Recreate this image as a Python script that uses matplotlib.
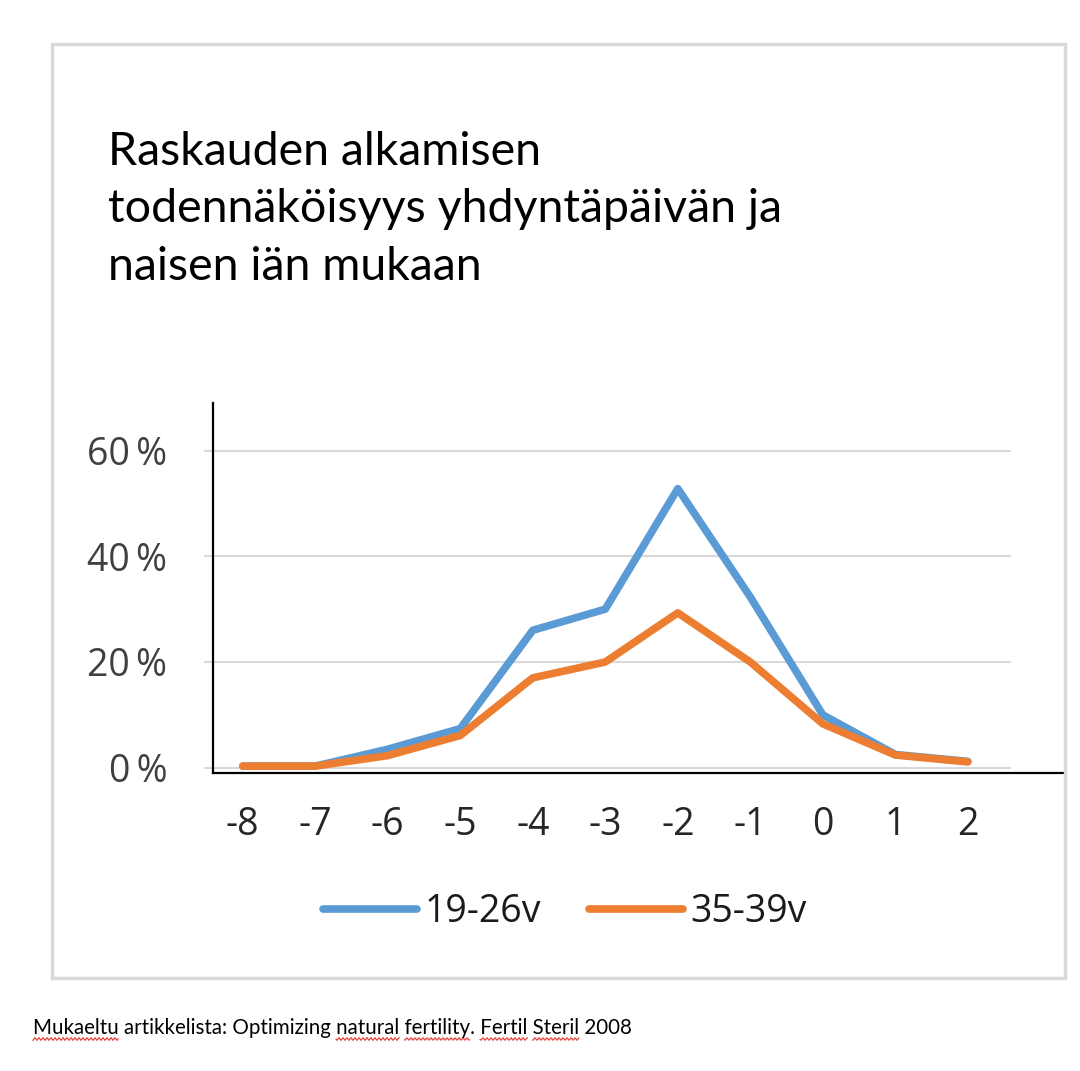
import numpy as np
import matplotlib.pyplot as plt
from matplotlib.patches import Rectangle
from matplotlib.lines import Line2D

# Days relative to ovulation and probability of pregnancy (%)
days = [-8, -7, -6, -5, -4, -3, -2, -1, 0, 1, 2]
young = [0.3, 0.3, 3.5, 7.4, 26.0, 30.0, 52.8, 32.3, 10.0, 2.5, 1.2]
older = [0.3, 0.3, 2.3, 6.1, 17.0, 20.0, 29.3, 20.0, 8.3, 2.4, 1.1]
yticks = [0, 20, 40, 60]
series_names = ['19-26v', '35-39v']

title = 'Raskauden alkamisen\ntodennäköisyys yhdyntäpäivän ja\nnaisen iän mukaan'
caption = 'Mukaeltu artikkelista: Optimizing natural fertility. Fertil Steril 2008'
# words flagged by the spell checker in the source document
flagged = ['Mukaeltu', 'natural', 'fertility', 'Fertil', 'Steril']

blue = '#5b9bd5'
orange = '#ed7d31'
W, H = 1080, 1071

fig = plt.figure(figsize=(W / 100, H / 100), dpi=100)
fig.patch.set_facecolor('white')

# outer chart frame
fig.patches.append(Rectangle((52 / W, 1 - 978 / H), (1065 - 52) / W, (978 - 44) / H,
                             transform=fig.transFigure, fill=False,
                             edgecolor='#d9d9d9', linewidth=2.5))

fig.text(108 / W, 1 - 131 / H, title, fontsize=33.5, family='Lato',
         va='top', ha='left', linespacing=1.45, color='black')

ax = fig.add_axes([213 / W, 1 - 773 / H, (1065 - 213) / W, (773 - 403) / H])
ax.set_xlim(-8.41, 3.34)
ax.set_ylim(-1.0, 69.0)

for t in yticks:
    ax.plot([-8.52, 2.58], [t, t], color='#d9d9d9', lw=1.5, zorder=1, clip_on=False)

l1, = ax.plot(days, young, color=blue, lw=5.5, solid_joinstyle='round',
              solid_capstyle='round', zorder=3)
l2, = ax.plot(days, older, color=orange, lw=5.5, solid_joinstyle='round',
              solid_capstyle='round', zorder=4)

for s in ['top', 'right']:
    ax.spines[s].set_visible(False)
for s in ['left', 'bottom']:
    ax.spines[s].set_color('black')
    ax.spines[s].set_linewidth(1.6)

ax.set_xticks(days)
ax.set_xticklabels([str(d) for d in days])
ax.set_yticks(yticks)
ax.set_yticklabels(['%d\u2009%%' % t for t in yticks])
ax.tick_params(length=0, labelsize=27, colors='#404040')
ax.tick_params(axis='x', pad=24, labelcolor='#262626')
ax.tick_params(axis='y', pad=33)
for lab in ax.get_xticklabels() + ax.get_yticklabels():
    lab.set_family('Open Sans')

leg = fig.legend([l1, l2], series_names, loc='center', bbox_to_anchor=(565 / W, 1 - 912 / H),
                 ncol=2, frameon=False, handlelength=2.5, columnspacing=1.3,
                 handletextpad=0.2, prop={'family': 'Open Sans', 'size': 27})
for t in leg.get_texts():
    t.set_color('#1a1a1a')

cap_x, cap_y = 33, 1028
cap = fig.text(cap_x / W, 1 - cap_y / H, caption, fontsize=14.8, family='Lato',
               va='center', ha='left', color='black')

# red wavy spell-check underlines below the flagged words
renderer = fig.canvas.get_renderer()


def text_width(s):
    tmp = fig.text(0, 0, s, fontsize=14.8, family='Lato')
    w = tmp.get_window_extent(renderer).width
    tmp.remove()
    return w


for word in flagged:
    i = caption.index(word)
    x0 = cap_x + (text_width(caption[:i]) if i > 0 else 0)
    x1 = cap_x + text_width(caption[:i + len(word)])
    xs = np.arange(x0, x1, 1.0)
    ys = cap_y + 11 + 1.3 * np.sin(xs * np.pi / 2.0)
    fig.lines.append(Line2D(xs / W, 1 - ys / H, transform=fig.transFigure,
                            color='#e0443c', lw=0.9))

plt.savefig('out.png', dpi=100)
